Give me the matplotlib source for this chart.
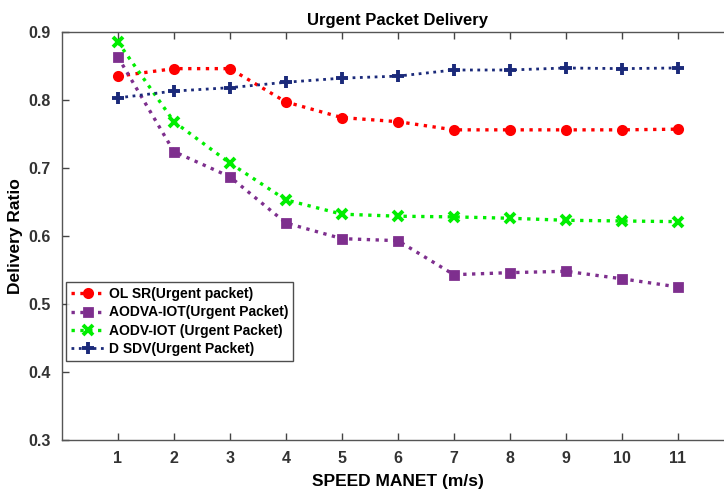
import matplotlib
matplotlib.use("Agg")
import matplotlib.pyplot as plt

plt.rcParams['font.family'] = ['Liberation Sans', 'DejaVu Sans']

speed = [1, 2, 3, 4, 5, 6, 7, 8, 9, 10, 11]
olsr = [0.835, 0.846, 0.846, 0.797, 0.774, 0.768, 0.756, 0.756, 0.756, 0.756, 0.757]
aodva_iot = [0.863, 0.724, 0.687, 0.619, 0.596, 0.593, 0.543, 0.546, 0.548, 0.537, 0.525]
aodv_iot = [0.885, 0.768, 0.707, 0.653, 0.632, 0.629, 0.628, 0.626, 0.623, 0.622, 0.621]
dsdv = [0.803, 0.813, 0.818, 0.826, 0.832, 0.835, 0.844, 0.844, 0.847, 0.846, 0.847]

labels = ["OL SR(Urgent packet)", "AODVA-IOT(Urgent Packet)",
          "AODV-IOT (Urgent Packet)", "D SDV(Urgent Packet)"]

fig = plt.figure(figsize=(7.24, 4.91), dpi=100)
ax = fig.add_axes([0.0856, 0.104, 0.928, 0.831])

ax.plot(speed, olsr, ':', color="#FF0000", lw=2.4, marker="o", ms=6,
        mfc="#FF0000", mec="#FF0000", mew=2, label=labels[0])
ax.plot(speed, aodva_iot, ':', color="#7E2F8E", lw=2.4, marker="s", ms=5.5,
        mfc="#7E2F8E", mec="#7E2F8E", mew=2, label=labels[1])
ax.plot(speed, aodv_iot, ':', color="#00EE00", lw=2.4, marker="x", ms=6.5,
        mew=2.8, label=labels[2])
ax.plot(speed, dsdv, ':', color="#1B2A7A", lw=2.0, marker="+", ms=8.5,
        mew=2.8, label=labels[3])

ax.set_xlim(0, 12)
ax.set_ylim(0.3, 0.9)
ax.set_xticks(speed)
ax.set_yticks([0.3, 0.4, 0.5, 0.6, 0.7, 0.8, 0.9])
ax.set_yticklabels(["0.3", "0.4", "0.5", "0.6", "0.7", "0.8", "0.9"])
ax.tick_params(direction="in", top=True, right=True, length=5, width=1,
               colors="#444444", labelsize=11.5, pad=8)
for lbl in ax.get_xticklabels() + ax.get_yticklabels():
    lbl.set_fontweight("bold")
    lbl.set_color("#333333")
for sp in ax.spines.values():
    sp.set_color("#555555")
    sp.set_linewidth(1)

ax.set_title("Urgent Packet Delivery", fontsize=12, fontweight="bold", pad=5)
ax.set_xlabel("SPEED MANET (m/s)", fontsize=12.5, fontweight="bold", labelpad=6)
ax.set_ylabel("Delivery Ratio", fontsize=12.5, fontweight="bold", labelpad=4)

leg = ax.legend(loc="upper left", bbox_to_anchor=(0.006, 0.386),
                prop={"weight": "bold", "size": 10}, frameon=True, fancybox=False,
                handlelength=2.4, handletextpad=0.35, borderpad=0.35,
                labelspacing=0.3, borderaxespad=0)
leg.get_frame().set_edgecolor("#222222")
leg.get_frame().set_linewidth(1)

fig.savefig("out.png", dpi=100)
